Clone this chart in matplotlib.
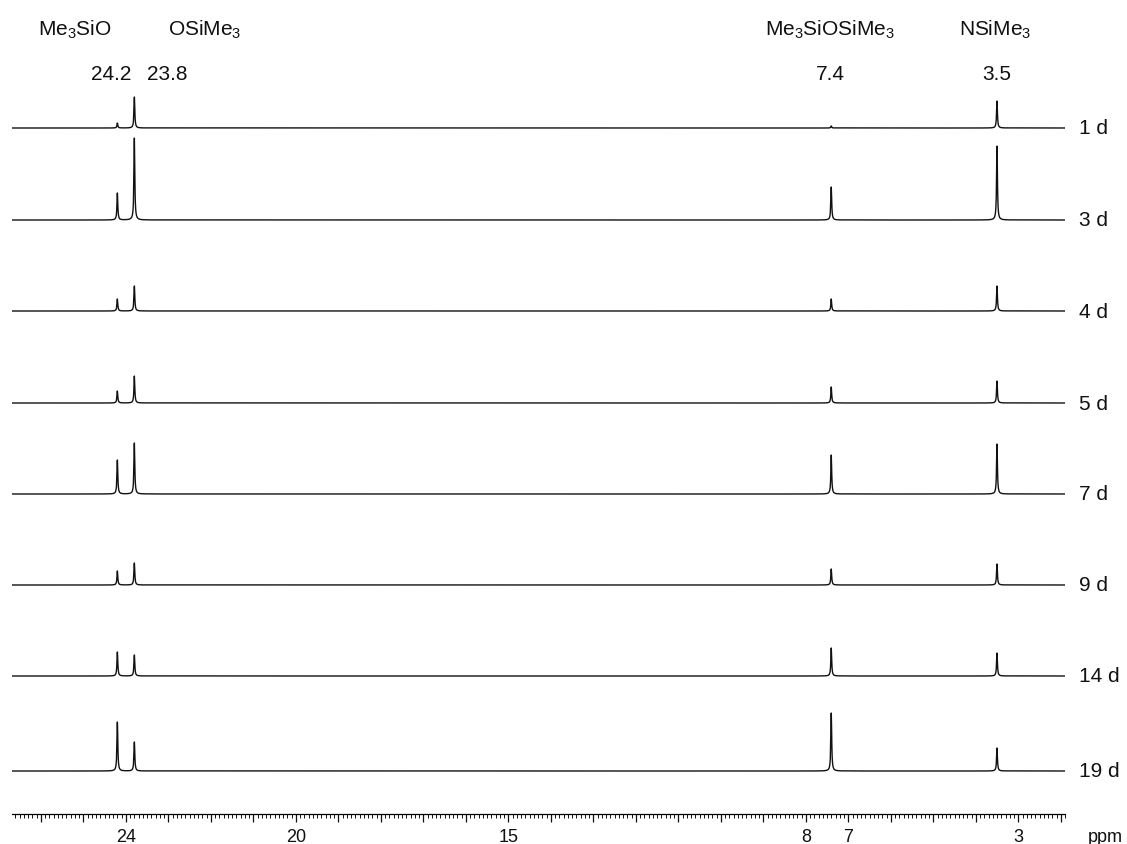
import numpy as np
import matplotlib
matplotlib.use("Agg")
import matplotlib.pyplot as plt
from matplotlib.ticker import FixedLocator, FixedFormatter, MultipleLocator

plt.rcParams['font.family'] = ['Liberation Sans', 'DejaVu Sans']
plt.rcParams['mathtext.fontset'] = 'custom'
plt.rcParams['mathtext.rm'] = 'Liberation Sans'
plt.rcParams['mathtext.it'] = 'Liberation Sans:italic'

# ---- data ----
days = ["1 d", "3 d", "4 d", "5 d", "7 d", "9 d", "14 d", "19 d"]
peak_ppm = [24.2, 23.8, 7.4, 3.5]
peak_labels = ["24.2", "23.8", "7.4", "3.5"]
group_labels = ["Me$_3$SiO", "OSiMe$_3$", "Me$_3$SiOSiMe$_3$", "NSiMe$_3$"]
# peak intensities (arbitrary units) for each spectrum, order = peak_ppm
h_242 = [5, 27, 12, 12, 34, 14, 24, 49]
h_238 = [31, 82, 25, 27, 51, 22, 21, 29]
h_74 = [2, 33, 12, 16, 39, 16, 28, 58]
h_35 = [27, 74, 25, 22, 50, 21, 23, 23]
major_labels = {24: "24", 20: "20", 15: "15", 8: "8", 7: "7", 3: "3"}

# ---- layout ----
W, H = 1127, 845
fig = plt.figure(figsize=(W / 100, H / 100), dpi=100)
x_left, x_right, y_axis = 12, 1065, 815
ax = fig.add_axes([x_left / W, (H - y_axis) / H, (x_right - x_left) / W, y_axis / H])
ax.set_xlim(26.68, 1.9)
ax.set_ylim(0, y_axis)

baseline_px = [129, 221, 312, 404, 495, 586, 677, 772]
offsets = [y_axis - b for b in baseline_px]

x = np.linspace(1.9, 26.68, 20000)
hw = 0.012
heights = [h_242, h_238, h_74, h_35]
for i, off in enumerate(offsets):
    y = np.zeros_like(x)
    for p, hs in zip(peak_ppm, heights):
        y += hs[i] * hw**2 / ((x - p) ** 2 + hw**2)
    ax.plot(x, y + off, color="#111111", lw=1.0)
    ax.text(1079 / W, 1 - baseline_px[i] / H, days[i], transform=fig.transFigure,
            fontsize=15, va="center", ha="left", color="#111111")

# axis styling
for s in ["left", "right", "top"]:
    ax.spines[s].set_visible(False)
ax.spines["bottom"].set_linewidth(0.9)
ax.set_yticks([])
majors = list(range(2, 27))
ax.xaxis.set_major_locator(FixedLocator(majors))
ax.xaxis.set_major_formatter(FixedFormatter([major_labels.get(m, "") for m in majors]))
ax.xaxis.set_minor_locator(MultipleLocator(0.1))
ax.tick_params(axis="x", which="major", length=6, width=0.9, labelsize=13, pad=4, colors="#111111")
ax.tick_params(axis="x", which="minor", length=3, width=0.7, colors="#111111")
fig.text(1088 / W, 1 - 838 / H, "ppm", fontsize=13, ha="left", va="center", color="#111111")

# peak annotations
group_x_px = [75, 205, 830, 995]
num_x_px = [111, 167, 830, 997]
for gx, gl in zip(group_x_px, group_labels):
    fig.text(gx / W, 1 - 30 / H, gl, fontsize=15, ha="center", va="center", color="#111111")
for nx, nl in zip(num_x_px, peak_labels):
    fig.text(nx / W, 1 - 75 / H, nl, fontsize=15, ha="center", va="center", color="#111111")

fig.savefig("out.png", dpi=100)
